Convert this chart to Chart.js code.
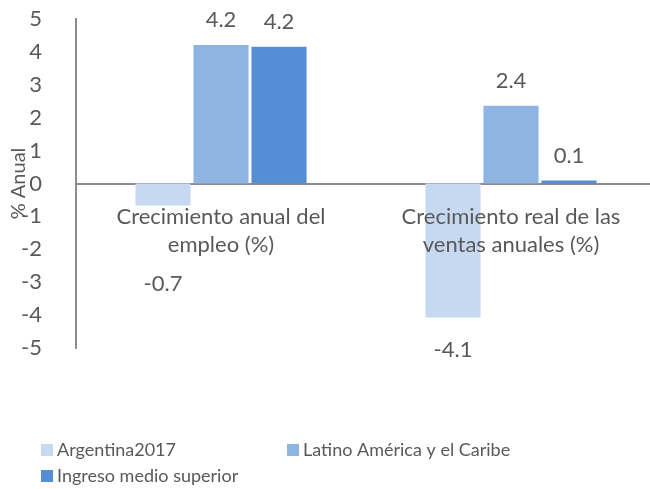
<!DOCTYPE html>
<html>
<head>
<meta charset="utf-8">
<script src="https://cdn.jsdelivr.net/npm/chart.js@4"></script>
<style>
  html, body { margin: 0; padding: 0; background: #fff; overflow: hidden; }
  #wrap { position: relative; width: 656px; height: 489px; }
</style>
</head>
<body>
<div id="wrap"><canvas id="empleoChart"></canvas></div>
<script>
// categorias y series
const categories = [
    ['Crecimiento anual del', 'empleo (%)'],
    ['Crecimiento real de las', 'ventas anuales (%)']
];
const seriesNames = ['Argentina2017', 'Latino América y el Caribe', 'Ingreso medio superior'];
const argentina = [-0.67, -4.07];
const latinoAmerica = [4.21, 2.36];
const ingresoMedio = [4.16, 0.09];
const yTicks = [5, 4, 3, 2, 1, 0, -1, -2, -3, -4, -5];

const colors = ['#c6d9f1', '#8eb4e3', '#558ed5'];
const textColor = '#595959';
const fontFamily = 'Lato, "Open Sans", sans-serif';
const fontSize = 22;

// etiquetas de valor encima / debajo de cada barra
const valueLabels = {
    id: 'valueLabels',
    afterDatasetsDraw(chart) {
        const ctx = chart.ctx;
        const zeroY = chart.scales.y.getPixelForValue(0);
        ctx.save();
        ctx.font = fontSize + 'px ' + fontFamily;
        ctx.fillStyle = textColor;
        ctx.textAlign = 'center';
        ctx.textBaseline = 'middle';
        chart.data.datasets.forEach((ds, i) => {
            chart.getDatasetMeta(i).data.forEach((bar, j) => {
                const v = ds.data[j];
                let y;
                if (v >= 0) {
                    y = bar.y - 25;
                } else {
                    y = Math.max(bar.y + 33, zeroY + 100);
                }
                ctx.fillText(v.toFixed(1), bar.x, y);
            });
        });
        ctx.restore();
    }
};

// leyenda en dos columnas como en Excel
const gridLegend = {
    id: 'gridLegend',
    afterDraw(chart) {
        const ctx = chart.ctx;
        ctx.save();
        ctx.font = '18px ' + fontFamily;
        ctx.textBaseline = 'middle';
        ctx.textAlign = 'left';
        const cols = [41, 287];
        chart.data.datasets.forEach((ds, i) => {
            const x = cols[i % 2];
            const y = 450 + Math.floor(i / 2) * 26;
            ctx.fillStyle = ds.backgroundColor;
            ctx.fillRect(x, y - 6, 12, 12);
            ctx.fillStyle = textColor;
            ctx.fillText(ds.label, x + 16, y);
        });
        ctx.restore();
    }
};

const ctx = document.getElementById('empleoChart');
new Chart(ctx, {
    type: 'bar',
    data: {
        labels: categories,
        datasets: [
            { label: seriesNames[0], data: argentina, backgroundColor: colors[0] },
            { label: seriesNames[1], data: latinoAmerica, backgroundColor: colors[1] },
            { label: seriesNames[2], data: ingresoMedio, backgroundColor: colors[2] }
        ]
    },
    options: {
        responsive: true,
        maintainAspectRatio: false,
        animation: false,
        categoryPercentage: 0.6,
        barPercentage: 0.95,
        layout: { padding: { top: 19, bottom: 141, right: 0 } },
        plugins: {
            legend: { display: false },
            tooltip: { enabled: false }
        },
        scales: {
            x: {
                position: { y: 0 },
                z: 1,
                grid: { display: false },
                border: { display: true, color: '#8c8c8c', width: 2 },
                ticks: {
                    z: 1,
                    color: textColor,
                    font: { family: fontFamily, size: fontSize, lineHeight: 1.3 },
                    padding: 11,
                    maxRotation: 0
                }
            },
            y: {
                min: -5,
                max: 5,
                afterBuildTicks(scale) {
                    scale.ticks = yTicks.map(v => ({ value: v }));
                },
                afterFit(scale) {
                    scale.width = 76;
                    scale.paddingTop = 0;
                    scale.paddingBottom = 0;
                },
                grid: { display: false, drawTicks: false },
                border: { display: true, color: '#8c8c8c', width: 2 },
                ticks: {
                    color: textColor,
                    font: { family: fontFamily, size: fontSize },
                    padding: 34
                },
                title: {
                    display: true,
                    text: '% Anual',
                    color: textColor,
                    font: { family: fontFamily, size: 20 },
                    padding: { top: 7, bottom: 0 }
                }
            }
        }
    },
    plugins: [valueLabels, gridLegend]
});
</script>
</body>
</html>
